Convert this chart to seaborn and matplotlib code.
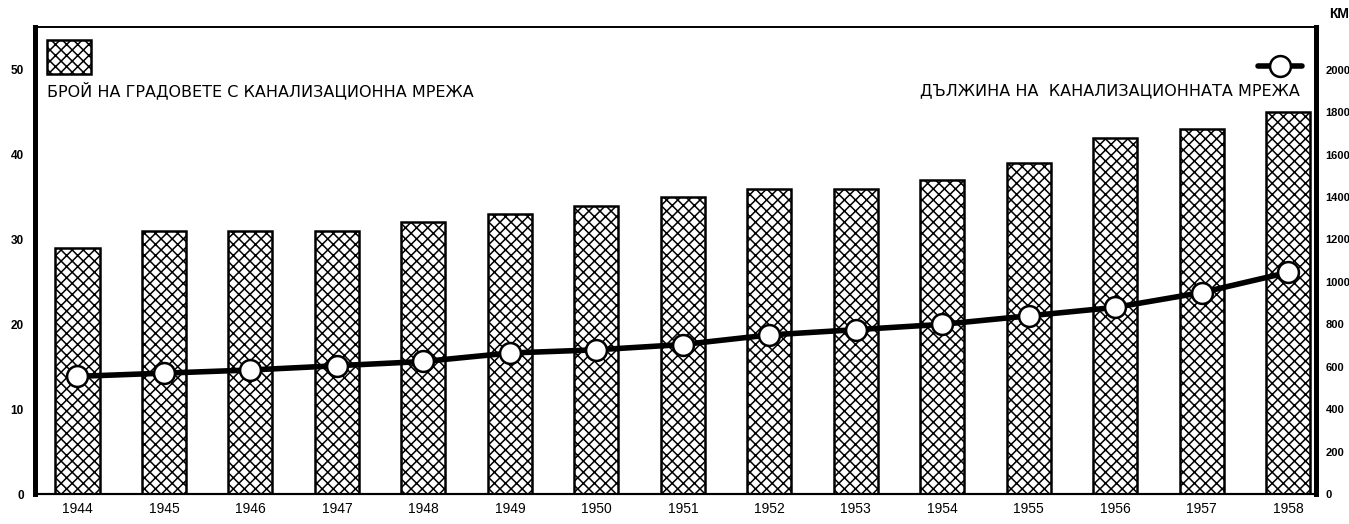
import numpy as np
import pandas as pd
import seaborn as sns
import matplotlib
matplotlib.use("Agg")
import matplotlib.pyplot as plt
from matplotlib.patches import Rectangle
from matplotlib.lines import Line2D

years = ["1944", "1945", "1946", "1947", "1948", "1949", "1950", "1951",
         "1952", "1953", "1954", "1955", "1956", "1957", "1958"]
towns = [29, 31, 31, 31, 32, 33, 34, 35, 36, 36, 37, 39, 42, 43, 45]
length_km = [555, 570, 585, 605, 625, 665, 680, 705, 750, 775, 800, 840, 880, 950, 1045]

left_ticks = [0, 10, 20, 30, 40, 50]
right_ticks = [0, 200, 400, 600, 800, 1000, 1200, 1400, 1600, 1800, 2000]

label_towns = "БРОЙ НА ГРАДОВЕТЕ С КАНАЛИЗАЦИОННА МРЕЖА"
label_length = "ДЪЛЖИНА НА  КАНАЛИЗАЦИОННАТА МРЕЖА"

df = pd.DataFrame({"year": years, "towns": towns, "km": length_km})
df["pos"] = np.arange(len(df))

sns.set_style("white")
plt.rcParams["font.family"] = ["Liberation Sans", "DejaVu Sans"]
plt.rcParams["hatch.linewidth"] = 1.1
plt.rcParams["text.color"] = "black"
plt.rcParams["xtick.color"] = "black"
plt.rcParams["ytick.color"] = "black"

fig = plt.figure(figsize=(13.49, 5.24), dpi=100)
ax = fig.add_axes([0.026, 0.057, 0.9495, 0.891])

sns.barplot(data=df, x="year", y="towns", ax=ax, color="white",
            edgecolor="black", linewidth=1.8, width=0.51, hatch="xxx")

ax.set_xlim(-0.49, 14.32)
ax.set_ylim(0, 55)
ax.set_xlabel("")
ax.set_ylabel("")
ax.set_yticks(left_ticks)
ax.tick_params(axis="both", length=0)
ax.tick_params(axis="y", pad=8, labelsize=8.5)
ax.tick_params(axis="x", pad=6, labelsize=10)
for lab in ax.get_yticklabels():
    lab.set_fontweight("bold")

ax2 = ax.twinx()
sns.lineplot(data=df, x="pos", y="km", ax=ax2, color="black", linewidth=4,
             marker="o", markersize=15, markerfacecolor="white",
             markeredgecolor="black", markeredgewidth=1.8, zorder=5)
ax2.set_ylim(0, 2200)
ax2.set_yticks(right_ticks)
ax2.set_xlabel("")
ax2.set_ylabel("")
ax2.tick_params(axis="y", length=0, labelsize=8, pad=7)
for lab in ax2.get_yticklabels():
    lab.set_fontweight("bold")

for a in (ax, ax2):
    a.spines["left"].set_linewidth(3.5)
    a.spines["right"].set_linewidth(3.5)
    a.spines["top"].set_linewidth(1.2)
    a.spines["bottom"].set_linewidth(1.5)
    for s in a.spines.values():
        s.set_color("black")

# scale-bar look of the side axes
trans_l = ax.get_yaxis_transform()
for lo in [5, 15, 25, 35, 45]:
    ax.plot([0, 0], [lo + 1, lo + 4.5], transform=trans_l, color="white",
            lw=0.9, clip_on=False, zorder=10)
    ax.plot([1, 1], [lo + 1, lo + 4.5], transform=trans_l, color="white",
            lw=0.9, clip_on=False, zorder=10)

# legend blocks
ax.add_patch(Rectangle((0.0094, 0.899), 0.034, 0.073, transform=ax.transAxes,
                       facecolor="white", edgecolor="black", linewidth=1.8,
                       hatch="xxx", clip_on=False))
ax.text(0.0094, 0.865, label_towns, transform=ax.transAxes, fontsize=11.5,
        ha="left", va="center", family=["DejaVu Sans"])
ax2.add_line(Line2D([0.955, 0.989], [0.916, 0.916], transform=ax2.transAxes,
                    color="black", linewidth=4, zorder=6))
ax2.add_line(Line2D([0.972], [0.916], transform=ax2.transAxes, marker="o",
                    markersize=15, markerfacecolor="white",
                    markeredgecolor="black", markeredgewidth=1.8, zorder=7))
ax2.text(0.9875, 0.865, label_length, transform=ax2.transAxes, fontsize=11.5,
         ha="right", va="center", family=["DejaVu Sans"])
fig.text(0.993, 0.973, "КМ", fontsize=10, ha="center", va="center",
         fontweight="bold")

fig.savefig("out.png", dpi=100)
